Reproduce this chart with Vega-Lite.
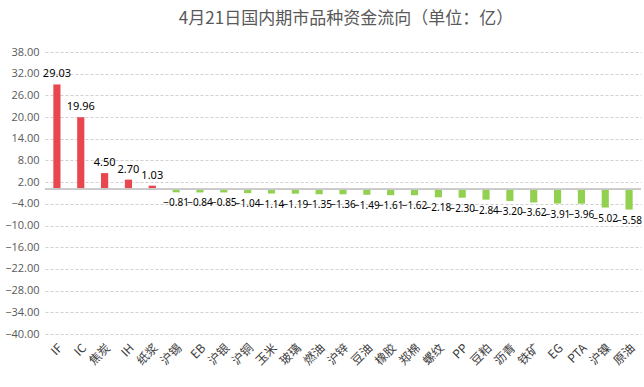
{
  "$schema": "https://vega.github.io/schema/vega-lite/v6.json",
  "autosize": {"type": "none"},
  "width": 596,
  "height": 282,
  "padding": {"left": 45, "top": 52, "right": 3, "bottom": 53},
  "background": "white",
  "title": {
    "text": "4月21日国内期市品种资金流向（单位：亿）",
    "fontSize": 17,
    "font": "Noto Sans CJK SC",
    "fontWeight": "normal",
    "color": "#595959",
    "anchor": "middle",
    "dx": 3,
    "offset": 18
  },
  "data": {
    "values": [
      {"name": "IF", "value": 29.03},
      {"name": "IC", "value": 19.96},
      {"name": "焦炭", "value": 4.50},
      {"name": "IH", "value": 2.70},
      {"name": "纸浆", "value": 1.03},
      {"name": "沪锡", "value": -0.81},
      {"name": "EB", "value": -0.84},
      {"name": "沪银", "value": -0.85},
      {"name": "沪铜", "value": -1.04},
      {"name": "玉米", "value": -1.14},
      {"name": "玻璃", "value": -1.19},
      {"name": "燃油", "value": -1.35},
      {"name": "沪锌", "value": -1.36},
      {"name": "豆油", "value": -1.49},
      {"name": "橡胶", "value": -1.61},
      {"name": "郑棉", "value": -1.62},
      {"name": "螺纹", "value": -2.18},
      {"name": "PP", "value": -2.30},
      {"name": "豆粕", "value": -2.84},
      {"name": "沥青", "value": -3.20},
      {"name": "铁矿", "value": -3.62},
      {"name": "EG", "value": -3.91},
      {"name": "PTA", "value": -3.96},
      {"name": "沪镍", "value": -5.02},
      {"name": "原油", "value": -5.58}
    ]
  },
  "encoding": {
    "x": {
      "field": "name",
      "type": "nominal",
      "sort": null,
      "scale": {"paddingInner": 0.7, "paddingOuter": 0.35},
      "axis": {
        "title": null,
        "orient": "bottom",
        "labelAngle": -45,
        "labelFontSize": 12,
        "labelColor": "#404040",
        "labelFont": "Noto Sans CJK SC",
        "labelPadding": 8,
        "ticks": false,
        "domain": false,
        "grid": false
      }
    },
    "y": {
      "field": "value",
      "type": "quantitative",
      "scale": {"domain": [-40, 38], "nice": false, "zero": false},
      "axis": {
        "title": null,
        "values": [38, 32, 26, 20, 14, 8, 2, -4, -10, -16, -22, -28, -34, -40],
        "format": ".2f",
        "labelFontSize": 11,
        "labelColor": "#595959",
        "labelFont": "Open Sans",
        "labelPadding": 6,
        "ticks": false,
        "domain": false,
        "grid": true,
        "gridColor": "#d0d0d0",
        "gridDash": [3, 2]
      }
    }
  },
  "layer": [
    {
      "mark": {"type": "bar"},
      "encoding": {
        "y2": {"datum": 0},
        "color": {
          "condition": {"test": "datum.value > 0", "value": "#E8474F"},
          "value": "#92D050"
        }
      }
    },
    {
      "mark": {"type": "rule", "color": "#c8c8c8", "strokeWidth": 1},
      "encoding": {"y": {"datum": 0}, "x": {"value": 0}, "x2": {"value": 596}}
    },
    {
      "transform": [{"filter": "datum.value > 0"}],
      "mark": {"type": "text", "baseline": "bottom", "dy": -5, "fontSize": 11, "font": "Noto Sans", "color": "#000000"},
      "encoding": {"text": {"field": "value", "type": "quantitative", "format": ".2f"}}
    },
    {
      "transform": [{"filter": "datum.value < 0"}],
      "mark": {"type": "text", "baseline": "top", "dy": 6, "fontSize": 10, "font": "Noto Sans", "color": "#000000"},
      "encoding": {"text": {"field": "value", "type": "quantitative", "format": ".2f"}}
    }
  ],
  "config": {"view": {"stroke": null}}
}
